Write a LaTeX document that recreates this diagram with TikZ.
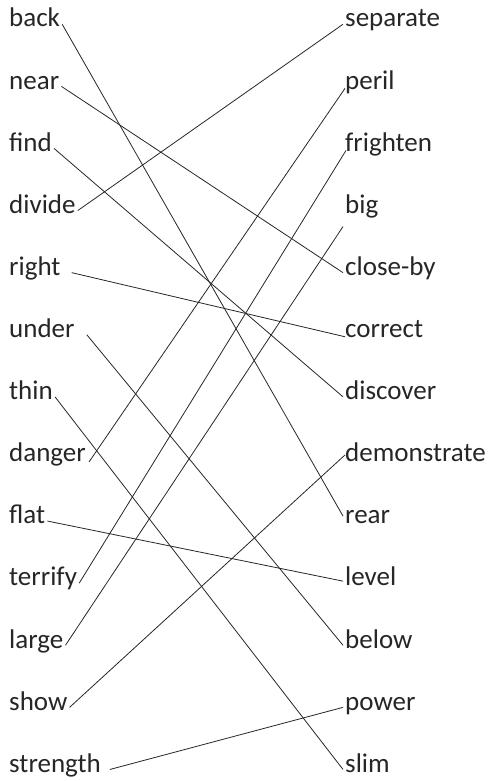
\documentclass[tikz,border=0pt]{standalone}
\usepackage{fontspec}
\setmainfont{Carlito}
\usetikzlibrary{calc}
\definecolor{wordtext}{RGB}{38,38,38}

\begin{document}
\begin{tikzpicture}[x=1pt, y=-1pt,
    word/.style={anchor=base west, inner xsep=2pt, inner ysep=0pt, text height=0.75em, text depth=0.2em, font=\fontsize{27}{30}\selectfont, text=wordtext},
    link/.style={line width=0.8pt, black!85},
]
\useasboundingbox (0,0) rectangle (493,781);

% Left: words
\node[word] (back) at (7,27) {back};
\node[word] (near) at (7,89.1) {near};
\node[word] (find) at (7,151.2) {find};
\node[word] (divide) at (7,213.3) {divide};
\node[word] (right) at (7,275.4) {right};
\node[word] (under) at (7,337.5) {under};
\node[word] (thin) at (7,399.6) {thin};
\node[word] (danger) at (7,461.7) {danger};
\node[word] (flat) at (7,523.8) {flat};
\node[word] (terrify) at (7,585.9) {terrify};
\node[word] (large) at (7,648) {large};
\node[word] (show) at (7,710.1) {show};
\node[word] (strength) at (7,772.2) {strength};

% Right: matches
\node[word] (separate) at (343,27) {separate};
\node[word] (peril) at (343,89.1) {peril};
\node[word] (frighten) at (343,151.2) {frighten};
\node[word] (big) at (343,213.3) {big};
\node[word] (closeby) at (343,275.4) {close-by};
\node[word] (correct) at (343,337.5) {correct};
\node[word] (discover) at (343,399.6) {discover};
\node[word] (demonstrate) at (343,461.7) {demonstrate};
\node[word] (rear) at (343,523.8) {rear};
\node[word] (level) at (343,585.9) {level};
\node[word] (below) at (343,648) {below};
\node[word] (power) at (343,710.1) {power};
\node[word] (slim) at (343,772.2) {slim};

% Links
\draw[link] (back.east) -- (rear.north west);
\draw[link] (near.east) -- (closeby.west);
\draw[link] (find.east) -- (discover.west);
\draw[link] (divide.east) -- (separate.west);
\draw[link] ($(right.east)+(9,0)$) -- ($(correct.west)+(2,2)$);
\draw[link] ($(under.east)+(10,0)$) -- (below.west);
\draw[link] (thin.east) -- (slim.west);
\draw[link] ($(danger.east)+(1,3)$) -- ($(peril.west)+(2,2)$);
\draw[link] (flat.east) -- ($(level.west)+(0,-2)$);
\draw[link] (terrify.east) -- ($(frighten.west)+(3,2)$);
\draw[link] (large.east) -- ($(big.west)+(0,16)$);
\draw[link] (show.east) -- ($(demonstrate.west)+(2,-4)$);
\draw[link] ($(strength.east)+(7,0)$) -- (power.west);
\end{tikzpicture}
\end{document}
